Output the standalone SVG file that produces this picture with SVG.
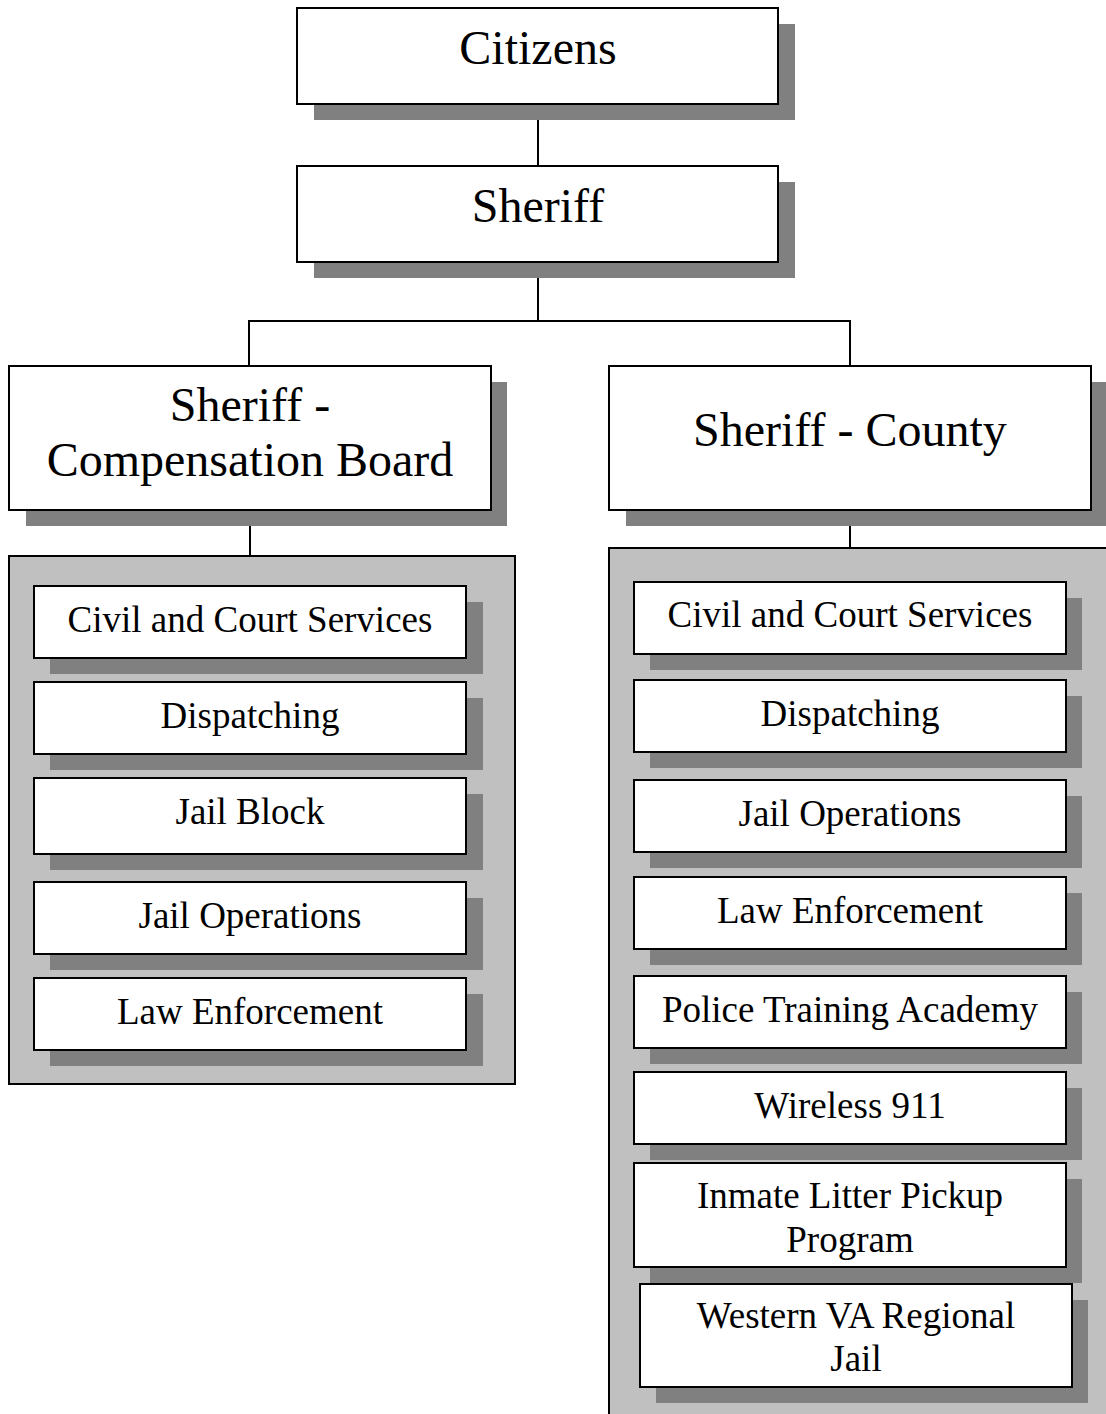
<svg xmlns="http://www.w3.org/2000/svg" width="1106" height="1414" viewBox="0 0 1106 1414">
<style>
.box{fill:#ffffff;stroke:#000000;stroke-width:2}
.sh{fill:#808080}
.panel{fill:#c0c0c0;stroke:#000000;stroke-width:2}
.ln{fill:none;stroke:#000000;stroke-width:2}
.big{font-family:"Liberation Serif","Times New Roman",serif;font-size:48px;fill:#000;text-anchor:middle}
.sm{font-family:"Liberation Serif","Times New Roman",serif;font-size:37px;fill:#000;text-anchor:middle}
</style>
<rect width="1106" height="1414" fill="#ffffff"/>
<g id="connectors">
<path class="ln" d="M538 104V166"/>
<path class="ln" d="M538 262V322"/>
<path class="ln" d="M249 366V321H850V366"/>
<path class="ln" d="M250 510V556"/>
<path class="ln" d="M850 510V548"/>
</g>
<g id="citizens">
<rect class="sh" x="314" y="24" width="481" height="96"/>
<rect class="box" x="297" y="8" width="481" height="96"/>
<text class="big" x="538" y="64">Citizens</text>
</g>
<g id="sheriff">
<rect class="sh" x="314" y="182" width="481" height="96"/>
<rect class="box" x="297" y="166" width="481" height="96"/>
<text class="big" x="538" y="222">Sheriff</text>
</g>
<g id="sheriff-comp">
<rect class="sh" x="26" y="382" width="481" height="144"/>
<rect class="box" x="9" y="366" width="482" height="144"/>
<text class="big" x="250" y="421">Sheriff -</text>
<text class="big" x="250" y="476">Compensation Board</text>
</g>
<g id="sheriff-county">
<rect class="sh" x="626" y="382" width="490" height="144"/>
<rect class="box" x="609" y="366" width="482" height="144"/>
<text class="big" x="850" y="446">Sheriff - County</text>
</g>
<g id="panel-left">
<rect class="panel" x="9" y="556" width="506" height="528"/>
</g>
<g id="panel-right">
<rect class="panel" x="609" y="548" width="510" height="880"/>
</g>
<g id="l-civil">
<rect class="sh" x="50" y="602" width="433" height="72"/>
<rect class="box" x="34" y="586" width="432" height="72"/>
<text class="sm" x="250" y="632">Civil and Court Services</text>
</g>
<g id="l-dispatching">
<rect class="sh" x="50" y="698" width="433" height="72"/>
<rect class="box" x="34" y="682" width="432" height="72"/>
<text class="sm" x="250" y="728">Dispatching</text>
</g>
<g id="l-jailblock">
<rect class="sh" x="50" y="794" width="433" height="76"/>
<rect class="box" x="34" y="778" width="432" height="76"/>
<text class="sm" x="250" y="824">Jail Block</text>
</g>
<g id="l-jailops">
<rect class="sh" x="50" y="898" width="433" height="72"/>
<rect class="box" x="34" y="882" width="432" height="72"/>
<text class="sm" x="250" y="928">Jail Operations</text>
</g>
<g id="l-law">
<rect class="sh" x="50" y="994" width="433" height="72"/>
<rect class="box" x="34" y="978" width="432" height="72"/>
<text class="sm" x="250" y="1024">Law Enforcement</text>
</g>
<g id="r-civil">
<rect class="sh" x="650" y="598" width="432" height="72"/>
<rect class="box" x="634" y="582" width="432" height="72"/>
<text class="sm" x="850" y="627">Civil and Court Services</text>
</g>
<g id="r-dispatching">
<rect class="sh" x="650" y="696" width="432" height="72"/>
<rect class="box" x="634" y="680" width="432" height="72"/>
<text class="sm" x="850" y="726">Dispatching</text>
</g>
<g id="r-jailops">
<rect class="sh" x="650" y="796" width="432" height="72"/>
<rect class="box" x="634" y="780" width="432" height="72"/>
<text class="sm" x="850" y="826">Jail Operations</text>
</g>
<g id="r-law">
<rect class="sh" x="650" y="893" width="432" height="72"/>
<rect class="box" x="634" y="877" width="432" height="72"/>
<text class="sm" x="850" y="923">Law Enforcement</text>
</g>
<g id="r-police">
<rect class="sh" x="650" y="992" width="432" height="72"/>
<rect class="box" x="634" y="976" width="432" height="72"/>
<text class="sm" x="850" y="1022">Police Training Academy</text>
</g>
<g id="r-wireless">
<rect class="sh" x="650" y="1088" width="432" height="72"/>
<rect class="box" x="634" y="1072" width="432" height="72"/>
<text class="sm" x="850" y="1118">Wireless 911</text>
</g>
<g id="r-inmate">
<rect class="sh" x="650" y="1179" width="432" height="104"/>
<rect class="box" x="634" y="1163" width="432" height="104"/>
<text class="sm" x="850" y="1208">Inmate Litter Pickup</text>
<text class="sm" x="850" y="1252">Program</text>
</g>
<g id="r-western">
<rect class="sh" x="656" y="1300" width="432" height="103"/>
<rect class="box" x="640" y="1284" width="432" height="103"/>
<text class="sm" x="856" y="1328">Western VA Regional</text>
<text class="sm" x="856" y="1371">Jail</text>
</g>
</svg>
